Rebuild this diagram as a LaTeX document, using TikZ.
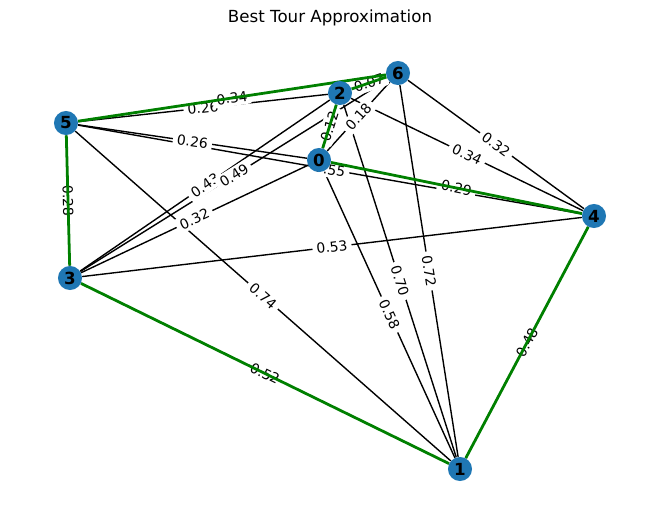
\documentclass[tikz,border=0pt]{standalone}
\usepackage{fontspec}
\setmainfont{DejaVu Sans}
\usepackage{xcolor}
\usepackage{tikz}
\usetikzlibrary{positioning}
\definecolor{nodeblue}{HTML}{1F77B4}
\definecolor{tourgreen}{HTML}{008000}
\pgfdeclarelayer{edges}
\pgfdeclarelayer{labels}
\pgfdeclarelayer{tour}
\pgfsetlayers{edges,labels,tour,main}

\begin{document}
\begin{tikzpicture}[x=0.72pt,y=-0.72pt,
		city/.style={circle, fill=nodeblue, minimum size=17.3pt, inner sep=0pt, font=\bfseries\fontsize{12}{12}\selectfont},
		road/.style={black, line width=1pt},
		best/.style={tourgreen, line width=2pt},
		dist/.style={midway, sloped, fill=white, rounded corners=2pt, inner xsep=3pt, inner ysep=2pt, font=\fontsize{10}{10}\selectfont}]
		\useasboundingbox (0,0) rectangle (660,522);
		\node[font=\fontsize{12}{12}\selectfont] (title) at (330,18) {Best Tour Approximation};

		% cities
		\node[city] (n0) at (319,160) {0};
		\node[city] (n1) at (460,469) {1};
		\node[city] (n2) at (340,93) {2};
		\node[city] (n3) at (70,278) {3};
		\node[city] (n4) at (594,216) {4};
		\node[city] (n5) at (66,123) {5};
		\node[city] (n6) at (398,73) {6};

		% all roads
		\begin{pgfonlayer}{edges}
		\draw[road] (n0) -- (n1);
		\draw[road] (n0) -- (n2);
		\draw[road] (n0) -- (n3);
		\draw[road] (n0) -- (n4);
		\draw[road] (n0) -- (n5);
		\draw[road] (n0) -- (n6);
		\draw[road] (n1) -- (n2);
		\draw[road] (n1) -- (n3);
		\draw[road] (n1) -- (n4);
		\draw[road] (n1) -- (n5);
		\draw[road] (n1) -- (n6);
		\draw[road] (n2) -- (n3);
		\draw[road] (n2) -- (n4);
		\draw[road] (n2) -- (n5);
		\draw[road] (n2) -- (n6);
		\draw[road] (n3) -- (n4);
		\draw[road] (n3) -- (n5);
		\draw[road] (n3) -- (n6);
		\draw[road] (n4) -- (n5);
		\draw[road] (n4) -- (n6);
		\draw[road] (n5) -- (n6);
		\end{pgfonlayer}

		% distances
		\begin{pgfonlayer}{labels}
		\path (n0) -- (n1) node[dist] {0.58};
		\path (n0) -- (n2) node[dist] {0.12};
		\path (n0) -- (n3) node[dist] {0.32};
		\path (n0) -- (n4) node[dist] {0.29};
		\path (n0) -- (n5) node[dist] {0.26};
		\path (n0) -- (n6) node[dist] {0.18};
		\path (n1) -- (n2) node[dist] {0.70};
		\path (n1) -- (n3) node[dist] {0.52};
		\path (n1) -- (n4) node[dist] {0.48};
		\path (n1) -- (n5) node[dist] {0.74};
		\path (n1) -- (n6) node[dist] {0.72};
		\path (n2) -- (n3) node[dist] {0.43};
		\path (n2) -- (n4) node[dist] {0.34};
		\path (n2) -- (n5) node[dist] {0.26};
		\path (n2) -- (n6) node[dist] {0.07};
		\path (n3) -- (n4) node[dist] {0.53};
		\path (n3) -- (n5) node[dist] {0.28};
		\path (n3) -- (n6) node[dist] {0.49};
		\path (n4) -- (n5) node[dist] {0.55};
		\path (n4) -- (n6) node[dist] {0.32};
		\path (n5) -- (n6) node[dist] {0.34};
		\end{pgfonlayer}

		% best tour
		\begin{pgfonlayer}{tour}
		\draw[best] (n0) -- (n2);
		\draw[best] (n2) -- (n6);
		\draw[best] (n6) -- (n5);
		\draw[best] (n5) -- (n3);
		\draw[best] (n3) -- (n1);
		\draw[best] (n1) -- (n4);
		\draw[best] (n4) -- (n0);
		\end{pgfonlayer}
	\end{tikzpicture}
\end{document}
